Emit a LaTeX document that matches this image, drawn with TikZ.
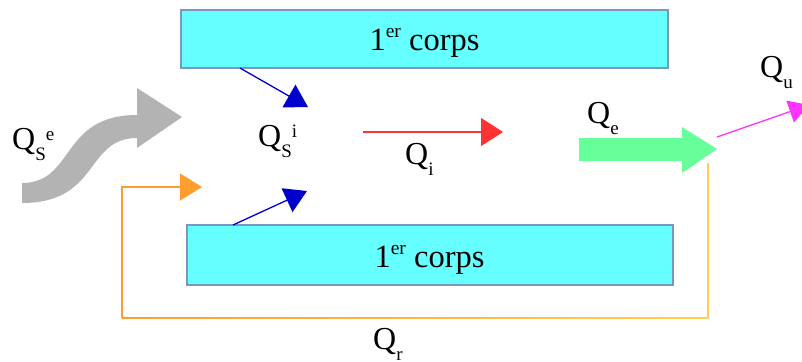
\documentclass[tikz,border=0pt]{standalone}
\usepackage{fontspec}
\setmainfont{Liberation Serif}
\usetikzlibrary{arrows.meta}
\definecolor{boxfill}{HTML}{66FFFF}
\definecolor{boxline}{HTML}{7A96C2}
\definecolor{bluearr}{HTML}{0000CC}
\definecolor{redarr}{HTML}{FF3333}
\definecolor{greenarr}{HTML}{66FF99}
\definecolor{magarr}{HTML}{FF33FF}
\definecolor{grayarr}{HTML}{B3B3B3}
\definecolor{orangeA}{HTML}{FF9E2C}
\definecolor{orangeB}{HTML}{FFD04A}
\newcommand{\subtxt}[1]{\raisebox{-11pt}{\fontsize{19}{19}\selectfont #1}}
\newcommand{\suptxt}[1]{\raisebox{9pt}{\fontsize{19}{19}\selectfont #1}}
\begin{document}
\begin{tikzpicture}[x=1pt,y=-1pt,
  lab/.style={font=\fontsize{32}{36}\selectfont, inner sep=0pt, anchor=base west},
  boxtxt/.style={font=\fontsize{32.5}{36}\selectfont, inner sep=0pt, anchor=base},
  corpsbox/.style={draw=boxline, fill=boxfill, line width=1.3pt},
  thinarr/.style={line width=1.3pt},
]
\useasboundingbox (0,0) rectangle (802,361);
% boxes
\draw[corpsbox] (181,10) rectangle (668,68);
\draw[corpsbox] (187,225) rectangle (673,285);
\node[boxtxt] (c1) at (424.5,50) {1\raisebox{13pt}{\fontsize{19.5}{19}\selectfont er} corps};
\node[boxtxt] (c2) at (429.5,267) {1\raisebox{13pt}{\fontsize{19.5}{19}\selectfont er} corps};
% gray curved arrow
\fill[grayarr] (22,183) .. controls (75,183) and (60,115) .. (137,115) -- (137,88) -- (182,117) -- (137,148) -- (137,138) .. controls (85,138) and (100,203) .. (22,203) -- cycle;
% green arrow
\fill[greenarr] (579,138) -- (682,138) -- (682,127) -- (717,149) -- (682,173) -- (682,161) -- (579,161) -- cycle;
% coordinates
\coordinate (b1s) at (240,68);
\coordinate (b1e) at (308,107);
\coordinate (b2s) at (233,225);
\coordinate (b2e) at (307,191);
\coordinate (rs) at (363,132);
\coordinate (re) at (503,132);
\coordinate (ms) at (717,137);
\coordinate (me) at (809,105);
\coordinate (oTop) at (708,163);
\coordinate (oBR) at (708,318);
\coordinate (oBL) at (122,318);
\coordinate (oTL) at (122,187);
\coordinate (oEnd) at (202,187);
% blue arrows
\draw[thinarr, bluearr, -{Triangle[length=22pt,width=26pt]}] (b1s) -- (b1e);
\draw[thinarr, bluearr, -{Triangle[length=22pt,width=26pt]}] (b2s) -- (b2e);
% red arrow
\draw[thinarr, redarr, -{Triangle[length=22pt,width=28pt]}] (rs) -- (re);
% magenta arrow
\draw[thinarr, magarr, -{Triangle[length=20pt,width=23pt]}] (ms) -- (me);
% orange feedback loop
\draw[line width=1.3pt, orangeB] (oTop) -- (oBR);
\shade[left color=orangeA, right color=orangeB] (122,317.35) rectangle (708,318.65);
\draw[line width=1.3pt, orangeA, -{Triangle[length=22pt,width=27pt]}] (oBL) -- (oTL) -- (oEnd);
% labels
\node[lab] (qse) at (12,149) {Q\subtxt{S}\suptxt{e}};
\node[lab] (qsi) at (258,146) {Q\subtxt{S}\suptxt{i}};
\node[lab] (qi) at (405,164) {Q\subtxt{i}};
\node[lab] (qe) at (587,123) {Q\subtxt{e}};
\node[lab] (qu) at (760,77) {Q\subtxt{u}};
\node[lab] (qr) at (373,349) {Q\subtxt{r}};
\end{tikzpicture}
\end{document}
